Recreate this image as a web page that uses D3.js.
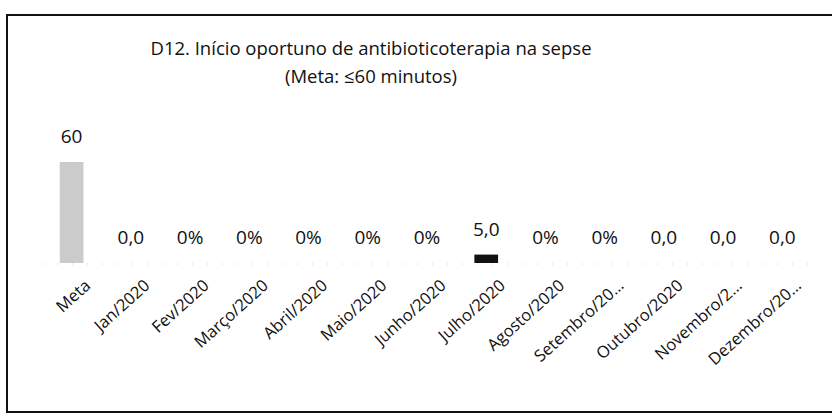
<!DOCTYPE html>
<html>
<head>
<meta charset="utf-8">
<script src="https://cdn.jsdelivr.net/npm/d3@7"></script>
<style>
  html, body { margin: 0; padding: 0; background: #fff; }
  svg { display: block; }
  text { font-family: "Open Sans", Lato, sans-serif; fill: #111; }
</style>
</head>
<body>
<svg id="chart" width="832" height="414"></svg>
<script>
// ---- data ----
const categories = ["Meta", "Jan/2020", "Fev/2020", "Março/2020", "Abril/2020", "Maio/2020", "Junho/2020",
                    "Julho/2020", "Agosto/2020", "Setembro/2020", "Outubro/2020", "Novembro/2020", "Dezembro/2020"];
const tickLabels = ["Meta", "Jan/2020", "Fev/2020", "Março/2020", "Abril/2020", "Maio/2020", "Junho/2020",
                    "Julho/2020", "Agosto/2020", "Setembro/20…", "Outubro/2020", "Novembro/2…", "Dezembro/20…"];
const values = [60, 0, 0, 0, 0, 0, 0, 5, 0, 0, 0, 0, 0];
const valueLabels = ["60", "0,0", "0%", "0%", "0%", "0%", "0%", "5,0", "0%", "0%", "0,0", "0,0", "0,0"];
const barColors = ["#cbcbcb", "#111", "#111", "#111", "#111", "#111", "#111", "#111", "#111", "#111", "#111", "#111", "#111"];
const titleLines = ["D12. Início oportuno de antibioticoterapia na sepse", "(Meta: ≤60 minutos)"];

// ---- layout ----
const svg = d3.select("#chart");

// frame
svg.append("rect")
  .attr("x", 7).attr("y", 15)
  .attr("width", 840).attr("height", 397)
  .attr("fill", "none").attr("stroke", "#111").attr("stroke-width", 2);

const x = d3.scaleBand()
  .domain(categories)
  .range([42, 812])
  .paddingInner(0.6)
  .paddingOuter(0.3);

const y = d3.scaleLinear().domain([0, 60]).range([263, 162]);

// title
svg.append("g").selectAll("text")
  .data(titleLines)
  .join("text")
  .attr("x", 371)
  .attr("y", (d, i) => 55 + i * 28)
  .attr("text-anchor", "middle")
  .attr("font-size", 18.5)
  .text(d => d);

// faint baseline
svg.append("line")
  .attr("x1", x.range()[0]).attr("x2", x.range()[1])
  .attr("y1", y(0) + 1).attr("y2", y(0) + 1)
  .attr("stroke", "#d0d0d0").attr("stroke-width", 1)
  .attr("stroke-dasharray", "1,14");

// bars
svg.append("g").selectAll("rect")
  .data(categories)
  .join("rect")
  .attr("x", d => x(d))
  .attr("width", x.bandwidth())
  .attr("y", (d, i) => y(values[i]))
  .attr("height", (d, i) => y(0) - y(values[i]))
  .attr("fill", (d, i) => barColors[i]);

// value labels
svg.append("g").selectAll("text")
  .data(categories)
  .join("text")
  .attr("x", d => x(d) + x.bandwidth() / 2)
  .attr("y", (d, i) => y(values[i]) - 19)
  .attr("text-anchor", "middle")
  .attr("font-size", 19)
  .text((d, i) => valueLabels[i]);

// x axis labels (rotated)
const xAxis = d3.axisBottom(x).tickSize(0).tickFormat((d, i) => tickLabels[i]);
const gx = svg.append("g")
  .attr("transform", `translate(0,${y(0)})`)
  .call(xAxis);
gx.select(".domain").remove();
gx.selectAll("text")
  .attr("font-size", 16.5)
  .attr("font-family", "\"Open Sans\", Lato, sans-serif")
  .attr("fill", "#111")
  .attr("text-anchor", "end")
  .attr("dy", 0)
  .attr("y", 0)
  .attr("transform", "translate(20,24) rotate(-42)");
</script>
</body>
</html>
